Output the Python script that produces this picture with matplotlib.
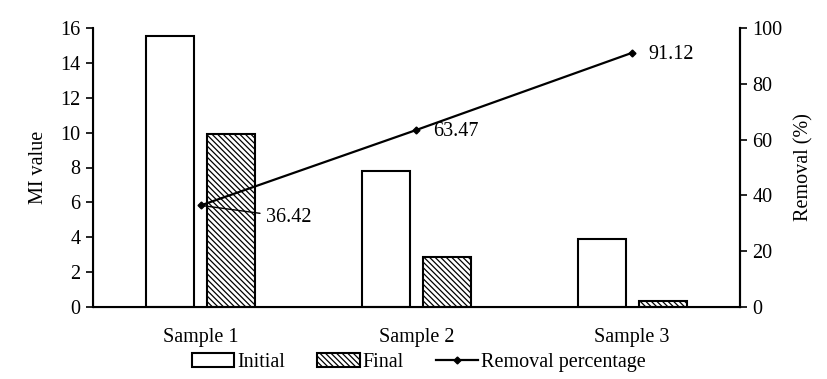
import matplotlib
matplotlib.use("Agg")
import matplotlib.pyplot as plt
import numpy as np

categories = ["Sample 1", "Sample 2", "Sample 3"]
initial = [15.55, 7.8, 3.9]
final = [9.9, 2.85, 0.35]
removal = [36.42, 63.47, 91.12]

plt.rcParams['font.family'] = ['Liberation Serif', 'DejaVu Serif']
plt.rcParams['hatch.linewidth'] = 0.9

FS = 14.5
fig = plt.figure(figsize=(8.28, 3.79), dpi=100)
ax = fig.add_axes([93/828, 1-307/379, (740-93)/828, (307-28)/379])
x = np.arange(len(categories))
w = 0.223
off = 0.141
ax.bar(x - off, initial, w, facecolor='white', edgecolor='black', linewidth=1.5, label='Initial', zorder=2)
ax.bar(x + off, final, w, facecolor='white', edgecolor='black', linewidth=1.5, hatch='\\\\\\\\\\\\', label='Final', zorder=2)
ax.set_xlim(-0.5, 2.5)
ax.set_ylim(0, 16)
ax.set_yticks(range(0, 17, 2))
ax.set_xticks(x)
ax.set_xticklabels(categories)
ax.tick_params(axis='x', length=0, pad=15, labelsize=FS)
ax.tick_params(axis='y', direction='out', length=5, width=1.2, labelsize=FS, pad=4)
ax.set_ylabel("MI value", fontsize=FS, labelpad=9)
ax.spines['top'].set_visible(False)
for s in ['left', 'bottom', 'right']:
    ax.spines[s].set_linewidth(1.5)

ax2 = ax.twinx()
ax2.plot(x, removal, color='black', linewidth=1.6, marker='D', markersize=3.5, label='Removal percentage', zorder=3)
ax2.set_ylim(0, 100)
ax2.set_yticks(range(0, 101, 20))
ax2.tick_params(axis='y', direction='out', length=5, width=1.2, labelsize=FS, pad=4)
ax2.set_ylabel("Removal (%)", fontsize=FS, labelpad=8)
ax2.spines['top'].set_visible(False)
ax2.spines['right'].set_linewidth(1.5)

# data labels
ax2.annotate(f"{removal[0]:.2f}", xy=(x[0], removal[0]), xytext=(x[0] + 0.3, removal[0] - 4.2),
             fontsize=FS, va='center', ha='left',
             arrowprops=dict(arrowstyle='-', color='black', linewidth=1, shrinkA=2, shrinkB=0))
ax2.annotate(f"{removal[1]:.2f}", xy=(x[1], removal[1]), xytext=(12, -1), textcoords='offset points',
             fontsize=FS, va='center', ha='left')
ax2.annotate(f"{removal[2]:.2f}", xy=(x[2], removal[2]), xytext=(12, -1), textcoords='offset points',
             fontsize=FS, va='center', ha='left')

h1, l1 = ax.get_legend_handles_labels()
h2, l2 = ax2.get_legend_handles_labels()
fig.legend(h1 + h2, l1 + l2, loc='lower center', bbox_to_anchor=(0.506, -0.03), ncol=3, frameon=False,
           fontsize=FS, handlelength=2.1, handleheight=0.65, handletextpad=0.15, columnspacing=1.6)

fig.savefig("out.png", dpi=100)
